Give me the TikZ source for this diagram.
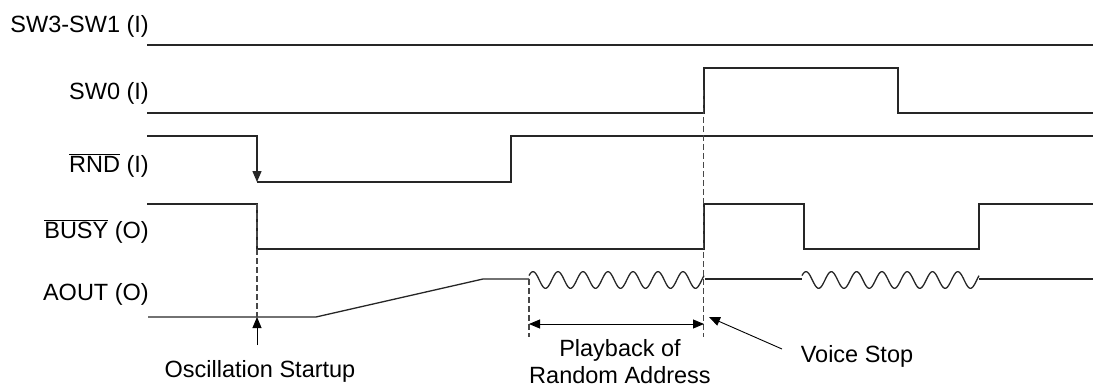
\documentclass[tikz,border=0pt]{standalone}
\usepackage{fontspec}
\setmainfont{Liberation Sans}
\usetikzlibrary{arrows.meta}
\begin{document}
\begin{tikzpicture}[x=1pt,y=-1pt,
  sig/.style={line width=1.3pt, black!85, line join=miter},
  guide/.style={line width=1.2pt, dash pattern=on 6pt off 3pt, black!72},
  txt/.style={inner sep=0pt, font=\fontsize{23.5}{27}\selectfont},
  lbl/.style={txt, anchor=base east},
  note/.style={txt, anchor=base},
  tipend/.style={-{Triangle[length=11pt,width=9pt]}},
  thin/.style={line width=0.9pt, black}]
\useasboundingbox (0,0) rectangle (1095,385);

% labels
\node[lbl] (l1) at (149,33) {SW3-SW1 (I)};
\node[lbl] (l2) at (149,100) {SW0 (I)};
\node[lbl] (l3) at (149,172) {$\overline{\mbox{RND}}$ (I)};
\node[lbl] (l4) at (149,238.5) {$\overline{\mbox{BUSY}}$ (O)};
\node[lbl] (l5) at (149,300.5) {AOUT (O)};

% SW3-SW1
\draw[sig] (147,45) -- (1093,45);
% SW0
\draw[sig] (147,113) -- (704,113) -- (704,68) -- (898,68) -- (898,113) -- (1093,113);
% RND
\coordinate (rndlow) at (257,182);
\draw[sig, tipend] (147,136) -- (257,136) -- (rndlow);
\draw[sig] (rndlow) -- (511,182) -- (511,136) -- (1093,136);
% BUSY
\draw[sig] (147,204) -- (257,204) -- (257,249) -- (704,249) -- (704,204) -- (804,204) -- (804,249) -- (979,249) -- (979,204) -- (1093,204);
% AOUT
\draw[sig] (148,317) -- (316,317) -- (483,279) -- (529,279);
\draw[sig] plot[domain=-0.16:6.84, samples=220, smooth] ({533+25*\x}, {280-8.3*cos(360*\x)});
\draw[sig] (705,279) -- (802,279);
\draw[sig] plot[domain=-0.16:6.84, samples=220, smooth] ({806+25.3*\x}, {280-8.3*cos(360*\x)});
\draw[sig] (979,279) -- (1093,279);

% guides
\coordinate (g1a) at (257,204);
\coordinate (osc) at (257,317);
\coordinate (g2a) at (529,279);
\coordinate (g2b) at (529,337);
\coordinate (g3a) at (703.5,90);
\coordinate (g3b) at (703.5,337);
\draw[guide] (g1a) -- (osc);
\draw[guide] (g2a) -- (g2b);
\draw[guide] (g3a) -- (g3b);

% annotations
\node[note] (osct) at (260,377) {Oscillation Startup};
\coordinate (oscfoot) at (257,345);
\draw[thin, tipend] (oscfoot) -- (osc);

\coordinate (pbl) at (529,324);
\coordinate (pbr) at (704,324);
\draw[thin, {Triangle[length=11pt,width=9pt]}-{Triangle[length=11pt,width=9pt]}] (pbl) -- (pbr);
\node[note] (pb1) at (620,356.7) {Playback of};
\node[note] (pb2) at (620,383) {Random Address};

\node[note] (vs) at (857,362.5) {Voice Stop};
\coordinate (vsfrom) at (782,349);
\coordinate (vsto) at (709,317);
\draw[thin, tipend] (vsfrom) -- (vsto);
\end{tikzpicture}
\end{document}
